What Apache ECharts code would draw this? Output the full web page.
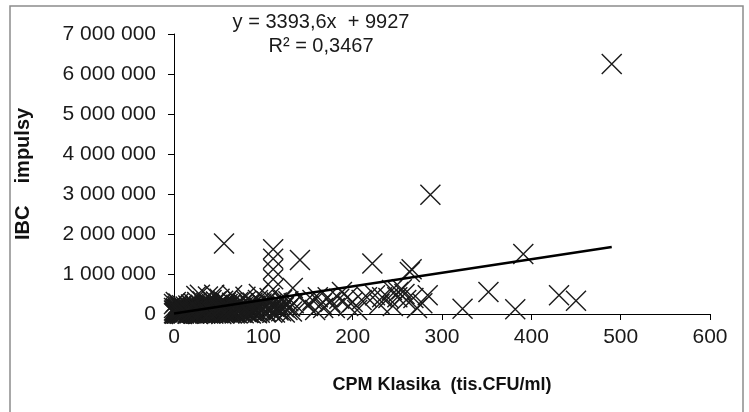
<!DOCTYPE html>
<html lang="cs">
<head>
    <meta charset="UTF-8">
    <title>CPM Klasika vs IBC</title>
    <script src="https://cdn.jsdelivr.net/npm/echarts@6/dist/echarts.min.js"></script>
    <style>
        body { margin: 0; background: #fff; }
        #chart { width: 749px; height: 412px; }
    </style>
</head>
<body>
    <div id="chart"></div>

    <script type="text/javascript">
        // CPM Klasika (tis.CFU/ml) - osa x
        var cpm = [
            490, 287, 56, 111, 111, 111, 111, 111, 141, 222, 264, 266, 391, 352, 431, 450, 323, 382, 284, 278, 255, 258,
            133, 161, 167, 172, 188, 194, 216, 225, 233, 244, 251, 147, 158,
            150, 155, 165, 175, 180, 185, 195, 200, 205, 210, 230, 240, 245, 250, 260, 268, 272,
            25, 45, 65, 80, 95, 29, 38,
            0, 1, 2, 2, 3, 4, 4, 5, 5, 6, 6, 7, 7, 8, 8, 9, 9, 10, 10, 11, 11, 12, 12, 13, 13, 14, 14, 15, 15, 16, 16, 17, 17, 18, 18, 19, 19, 20, 20,
            0, 0, 1, 3, 2, 5, 0, 1, 3, 6, 8, 2,
            21, 21, 22, 22, 23, 23, 24, 24, 25, 25, 26, 26, 27, 27, 28, 28, 29, 29, 30, 30, 31, 31, 32, 32, 33, 33, 34, 34, 35, 35, 36, 36, 37, 37, 38, 38, 39, 39, 40, 40,
            41, 41, 42, 42, 43, 43, 44, 44, 45, 45, 46, 46, 47, 47, 48, 48, 49, 49, 50, 50, 51, 51, 52, 52, 53, 53, 54, 54, 55, 55, 56, 56, 57, 57, 58, 58, 59, 59, 60, 60,
            61, 62, 63, 64, 65, 66, 67, 68, 69, 70, 71, 72, 73, 74, 75, 76, 77, 78, 79, 80, 81, 82, 83, 84, 85, 86, 87, 88, 89, 90,
            91, 92, 94, 95, 96, 98, 100, 101, 103, 104, 106, 107, 108, 109, 112, 113, 115, 116, 118, 120, 121, 123, 125, 127, 128, 130, 132, 134,
            1, 3, 4, 6, 9, 11, 14, 16, 19, 22, 24, 27, 30, 33, 35, 38, 41, 44, 47, 50, 53, 55, 58, 62, 66, 70, 74, 78, 82, 86,
            2, 5, 8, 12, 15, 18, 21, 26, 31, 36, 40, 46, 52, 57, 63, 68, 73, 79, 84, 88, 93, 97, 102, 110, 117, 124
        ];
        // IBC impulsy - osa y
        var ibc = [
            6250000, 2980000, 1760000, 1620000, 1380000, 1120000, 870000, 620000, 1350000, 1260000, 1050000, 1120000, 1500000, 550000, 470000, 330000, 130000, 120000, 470000, 270000, 620000, 500000,
            650000, 420000, 150000, 420000, 550000, 420000, 420000, 470000, 420000, 600000, 550000, 300000, 100000,
            200000, 350000, 250000, 300000, 150000, 380000, 200000, 300000, 100000, 350000, 250000, 400000, 200000, 420000, 350000, 400000, 150000,
            450000, 480000, 470000, 430000, 500000, 480000, 440000,
            20000, 80000, 150000, 40000, 110000, 10000, 200000, 60000, 130000, 30000, 90000, 180000, 5000, 70000, 140000, 25000, 220000, 100000, 50000, 160000, 15000, 75000, 120000, 35000, 190000, 95000, 60000, 10000, 145000, 210000, 45000, 85000, 170000, 20000, 110000, 65000, 240000, 135000, 30000,
            150000, 250000, 5000, 60000, 300000, 260000, 90000, 40000, 10000, 15000, 20000, 120000,
            90000, 180000, 15000, 260000, 55000, 120000, 200000, 35000, 150000, 75000, 10000, 300000, 110000, 45000, 190000, 80000, 25000, 140000, 230000, 60000, 100000, 170000, 20000, 320000, 130000, 50000, 210000, 90000, 15000, 160000, 70000, 280000, 120000, 40000, 190000, 100000, 30000, 250000, 140000, 65000,
            180000, 20000, 95000, 350000, 55000, 220000, 130000, 10000, 270000, 85000, 160000, 40000, 110000, 310000, 200000, 60000, 25000, 150000, 240000, 100000, 70000, 380000, 170000, 30000, 120000, 260000, 50000, 200000, 90000, 330000, 15000, 145000, 230000, 75000, 115000, 290000, 40000, 180000, 100000, 250000,
            60000, 200000, 130000, 30000, 280000, 90000, 170000, 50000, 230000, 120000, 20000, 300000, 80000, 190000, 140000, 40000, 260000, 100000, 210000, 60000, 330000, 150000, 25000, 240000, 110000, 180000, 70000, 290000, 130000, 45000,
            210000, 100000, 350000, 160000, 30000, 260000, 120000, 200000, 60000, 310000, 150000, 400000, 90000, 240000, 180000, 40000, 290000, 130000, 210000, 70000, 350000, 170000, 250000, 100000, 320000, 190000, 60000, 270000,
            40000, 10000, 70000, 50000, 0, 30000, 80000, 5000, 55000, 25000, 65000, 0, 45000, 85000, 35000, 10000, 70000, 20000, 50000, 90000, 0, 40000, 75000, 15000, 60000, 30000, 95000, 20000, 55000, 10000,
            100000, 120000, 30000, 70000, 115000, 40000, 85000, 125000, 60000, 100000, 20000, 75000, 110000, 45000, 90000, 15000, 65000, 120000, 35000, 80000, 20000, 105000, 50000, 30000, 90000, 40000
        ];
        // lineární trend y = 3393,6x + 9927
        var trendX = [0, 490];
        var trendY = [9927, 1672791];

        var xTicks = [0, 100, 200, 300, 400, 500, 600];
        var yTicks = [0, 1000000, 2000000, 3000000, 4000000, 5000000, 6000000, 7000000];
        var equationText = 'y = 3393,6x  + 9927';
        var r2Text = 'R² = 0,3467';

        var font = "'Liberation Sans', Arial, sans-serif";

        var points = cpm.map(function (x, i) { return [x, ibc[i]]; });
        var trend = trendX.map(function (x, i) { return [x, trendY[i]]; });

        function spaced(v) {
            return String(v).replace(/\B(?=(\d{3})+(?!\d))/g, ' ');
        }

        var chart = echarts.init(document.getElementById('chart'));
        chart.setOption({
            animation: false,
            backgroundColor: '#fff',
            grid: { left: 174, right: 39, top: 34, bottom: 98 },
            xAxis: {
                type: 'value',
                min: xTicks[0],
                max: xTicks[xTicks.length - 1],
                interval: 100,
                name: 'CPM Klasika  (tis.CFU/ml)',
                nameLocation: 'middle',
                nameGap: 62,
                nameTextStyle: { fontFamily: font, fontSize: 18, fontWeight: 'bold', color: '#111' },
                axisLine: { lineStyle: { color: '#000', width: 1 } },
                axisTick: { show: true, length: 6, lineStyle: { color: '#000' } },
                axisLabel: { margin: 13, fontFamily: font, fontSize: 21, color: '#1a1a1a' },
                splitLine: { show: false }
            },
            yAxis: {
                type: 'value',
                min: yTicks[0],
                max: yTicks[yTicks.length - 1],
                interval: 1000000,
                name: 'IBC    impulsy',
                nameLocation: 'middle',
                nameGap: 141,
                nameTextStyle: { fontFamily: font, fontSize: 20, fontWeight: 'bold', color: '#111' },
                axisLine: { show: true, lineStyle: { color: '#000', width: 1 } },
                axisTick: { show: true, length: 6, lineStyle: { color: '#000' } },
                axisLabel: { margin: 18, fontFamily: font, fontSize: 21, color: '#1a1a1a', formatter: spaced },
                splitLine: { show: false }
            },
            graphic: [
                {
                    type: 'rect',
                    shape: { x: 10, y: 6, width: 733, height: 420 },
                    style: { fill: 'none', stroke: '#8c8c8c', lineWidth: 1.5 },
                    silent: true
                },
                {
                    type: 'text', x: 321, y: 22,
                    style: { text: equationText, font: '20px ' + font, fill: '#1a1a1a', align: 'center', verticalAlign: 'middle', textAlign: 'center', textVerticalAlign: 'middle' }
                },
                {
                    type: 'text', x: 321, y: 46,
                    style: { text: r2Text, font: '20px ' + font, fill: '#1a1a1a', align: 'center', verticalAlign: 'middle', textAlign: 'center', textVerticalAlign: 'middle' }
                }
            ],
            series: [
                {
                    type: 'scatter',
                    data: points,
                    clip: false,
                    symbol: 'path://M0 0L20 20M20 0L0 20',
                    symbolSize: 20,
                    itemStyle: { color: 'transparent', borderColor: '#1a1a1a', borderWidth: 1.4, opacity: 1 },
                    emphasis: { disabled: true }
                },
                {
                    type: 'line',
                    data: trend,
                    symbol: 'none',
                    lineStyle: { color: '#000', width: 2.5 },
                    z: 3
                }
            ]
        });
    </script>
</body>
</html>
